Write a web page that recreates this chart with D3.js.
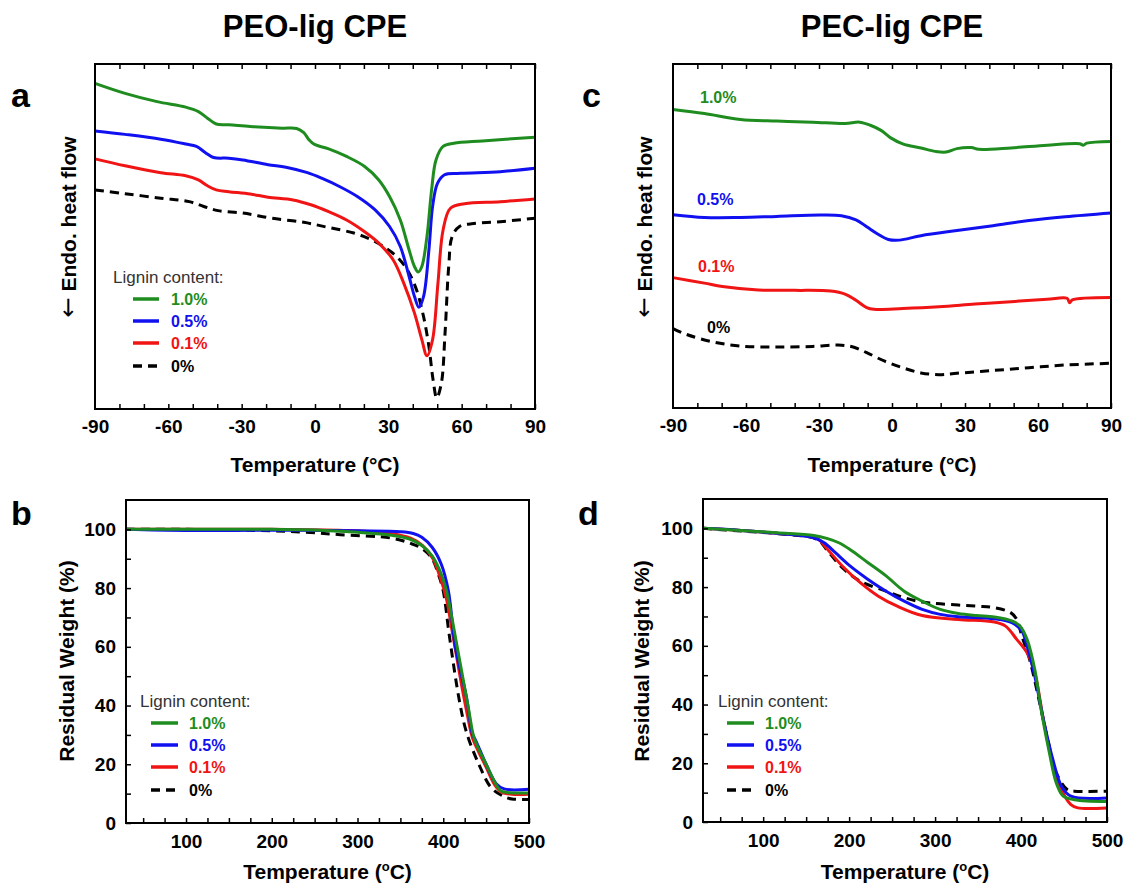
<!DOCTYPE html>
<html>
<head>
<meta charset="utf-8">
<script src="https://cdn.jsdelivr.net/npm/d3@7"></script>
<style>
  html, body { margin: 0; padding: 0; background: #fff; }
  svg { display: block; font-family: "Liberation Sans", Arial, sans-serif; }
</style>
</head>
<body>
<svg id="chart" width="1125" height="886"></svg>
<script>
// ---------------- DATA ----------------
const seriesNames = ["1.0%", "0.5%", "0.1%", "0%"];
const seriesColors = ["#1e8c1e", "#1010f0", "#f01414", "#000000"];

const dscTicks = [-90, -60, -30, 0, 30, 60, 90];
const tgaXTicks = [100, 200, 300, 400, 500];
const tgaYTicks = [0, 20, 40, 60, 80, 100];

// Panel a: PEO-lig CPE DSC (T in °C, heat flow a.u.)
const peoDsc10 = [[-90,94.4],[-77.7,91.5],[-64.6,89.1],[-52.9,87.5],[-47.7,86.2],[-44,84.3],[-40.4,82.6],[-35.3,82.4],[-26.5,81.9],[-13.4,81.4],[-7.5,81.3],[-4.6,80.1],[-2.4,78],[-0.2,76.7],[5.6,75.4],[12.9,73.2],[20.3,70.3],[26.1,66.4],[30.5,61.6],[34.9,54.8],[38.5,46.1],[40.7,41.3],[42.2,39.7],[43.7,41.3],[45.8,50],[47.7,63.5],[49.5,72.2],[52.4,76.1],[56.8,77],[68.5,77.7],[90,78.8]];
const peoDsc05 = [[-90,80.6],[-77.7,79.6],[-63.1,78.2],[-52.9,76.8],[-48.5,76.1],[-44.8,74.3],[-41.5,72.9],[-35.3,72.7],[-29.5,72.2],[-19.2,70.8],[-11.9,70.1],[-3.1,68.5],[2.7,66.9],[10,64.5],[17.3,61.6],[24.6,57.7],[30.5,52.9],[34.9,47.1],[38.5,38.4],[40.7,32.6],[42.5,29.5],[44.4,32.6],[46.6,46.1],[48.1,58.7],[50.1,65.4],[53,67.9],[59.7,68.3],[75.8,68.8],[90,69.8]];
const peoDsc01 = [[-90,72.5],[-77.7,70.5],[-63.1,68.5],[-52.9,67.6],[-47.7,66.4],[-44,64.7],[-40.4,63.5],[-35.3,63],[-26.5,62.3],[-19.2,61.4],[-9,60.6],[-1.7,59.2],[5.6,57.2],[12.9,54.8],[20.3,51.4],[26.1,48.1],[32,43.2],[36.3,36.5],[40.7,27.8],[43.7,20.1],[45.8,15.4],[48.1,20.1],[50.3,36.5],[52.4,51.9],[55.4,58.2],[61.2,59.5],[75.8,60.1],[90,60.9]];
const peoDsc00 = [[-90,63.5],[-77.7,62.4],[-63.1,61.1],[-51.4,60.1],[-45.5,58.7],[-39.7,57.5],[-29.5,56.8],[-17.8,55.3],[-4.6,54.1],[5.6,52.6],[15.9,51],[23.2,49],[29,46.6],[33.4,44.2],[37.8,40.3],[41.5,34.6],[44.4,26.8],[46.6,18.1],[48.3,8.5],[49.8,3.2],[51.7,7.5],[53.2,22],[54.7,41.3],[56.1,50],[59.1,52.9],[64.1,53.7],[75.8,54.3],[90,55.3]];

// Panel c: PEC-lig CPE DSC
const pecDsc10 = [[-90,86.8],[-77.1,85.6],[-62.3,83.9],[-47.4,83.4],[-32.6,83.1],[-19.3,82.7],[-13.3,83.1],[-8.9,82.2],[-4.5,80.7],[-0.7,78.6],[4.4,76.8],[11.9,75.6],[17.8,74.6],[22.2,74.4],[26.7,75.4],[32.6,75.7],[35.6,75.2],[48.9,75.6],[63.8,76.4],[77.1,76.8],[78.6,76.4],[80.1,77],[90,77.5]];
const pecDsc05 = [[-90,56.2],[-77.1,55.4],[-62.3,55.4],[-47.4,55.7],[-29.7,56.1],[-20.8,55.9],[-14.8,54.7],[-10.4,52.7],[-5.9,50.6],[-1.5,49],[3,48.8],[11.9,50.1],[26.7,51.6],[41.5,53],[56.3,54.5],[71.2,55.6],[90,56.7]];
const pecDsc01 = [[-90,37.9],[-77.1,36.3],[-69.7,35.3],[-54.9,34.3],[-40,34.2],[-25.2,34],[-19.3,33.1],[-14.8,31.3],[-10.4,29.2],[-7.4,28.7],[4.4,28.9],[19.3,29.4],[34.1,30.2],[48.9,30.9],[63.8,31.6],[71.9,31.9],[73,30.6],[74.1,31.4],[90,32.1]];
const pecDsc00 = [[-90,23.1],[-84.5,21.4],[-74.1,19.3],[-62.3,18],[-47.4,17.7],[-32.6,17.9],[-22.2,18.3],[-16.3,17.8],[-10.4,16.1],[-3,13.6],[4.4,11.7],[11.9,10.2],[19.3,9.7],[26.7,10.1],[41.5,10.9],[56.3,11.7],[71.2,12.5],[90,13]];

// Panel b: PEO-lig CPE TGA (T in °C, residual weight %)
const peoTga10 = [[30,100],[100,100],[200,100],[250,99.8],[300,99],[340,98],[360,96.8],[375,94.5],[387,91],[396,86],[403,80],[410,70],[415,62],[420,54],[425,46],[430,38],[435,30],[440,26],[450,20],[460,14],[467,11],[475,10.4],[500,10.2]];
const peoTga05 = [[30,100],[100,99.6],[200,99.7],[300,99.5],[350,99.2],[365,98.6],[375,97.3],[387,93.9],[397.6,88.2],[406,79],[414,60],[427,43],[434,30.3],[438,28],[450,20],[462,13.3],[471,11.6],[500,11.5]];
const peoTga01 = [[30,100],[100,100],[200,100],[290,99.6],[340,98.5],[362,97],[376,94.5],[388,90],[396,84],[404,76],[410,66],[416,56],[422,46],[428,37],[434,29],[440,25],[450,19],[460,13],[468,10.5],[480,9.8],[500,9.8]];
const peoTga00 = [[30,100],[100,100],[200,99.5],[240,99],[280,98.2],[340,97],[362,95.2],[375,93.5],[387,90],[394,85],[400,79],[407,64],[418.6,42],[427,31],[441.5,20],[456,12],[471,9],[480,8.2],[500,8]];

// Panel d: PEC-lig CPE TGA
const pecTga10 = [[30,100],[74,99.3],[116,98.5],[159,97.6],[175,96.5],[188,95.1],[201,92.8],[222,88.3],[243,83.8],[264,78.6],[285,75.2],[306,72.4],[327,71],[348,70.3],[369,69.8],[390,68.4],[399,66.7],[407,62.2],[416,51.9],[424,37.2],[433,23.5],[441,13.3],[449,8.8],[462,7.6],[500,7]];
const pecTga05 = [[30,100],[74,99.3],[116,98.3],[159,96.8],[171,95.1],[184,91.7],[201,87.2],[222,82.6],[243,78.6],[264,75.2],[285,72.4],[306,70.7],[327,69.9],[369,69.2],[390,67.8],[401,65],[407,59.9],[416,49.7],[426,34.9],[437,21.3],[447,12.2],[458,8.8],[500,8.2]];
const pecTga01 = [[30,100],[116,98.3],[163,96.5],[175,92.8],[192,87.2],[213,81.5],[234,76.9],[256,73.5],[285,70.3],[327,69],[369,68.1],[382,66.7],[395,62.2],[407,57.6],[416,50.8],[426,34.9],[437,20.1],[447,11],[458,5.9],[466,4.8],[500,4.8]];
const pecTga00 = [[30,100],[74,99.1],[116,98.2],[163,96.2],[175,92.3],[192,86.6],[213,82],[243,78.6],[264,76.4],[285,74.9],[306,74.3],[348,73.5],[369,73],[388,71.3],[395,69],[401,63.3],[410,55.3],[420,42.8],[431,28.1],[441,16.7],[454,11],[462,10.5],[500,10.5]];

// ---------------- DRAW ----------------
const svg = d3.select("#chart");
const FONT = "'Liberation Sans', Arial, sans-serif";

function panel(opt) {
  const x = d3.scaleLinear().domain(opt.xDomain).range([opt.x0, opt.x1]);
  const y = d3.scaleLinear().domain(opt.yDomain).range([opt.y1, opt.y0]);
  const g = svg.append("g");

  // curves
  const line = d3.line().x(d => x(d[0])).y(d => y(d[1])).curve(d3.curveCatmullRom.alpha(0.5));
  const order = [3, 2, 1, 0];
  order.forEach(i => {
    g.append("path")
      .attr("d", line(opt.series[i]))
      .attr("fill", "none")
      .attr("stroke", seriesColors[i])
      .attr("stroke-width", 3)
      .attr("stroke-linejoin", "round")
      .attr("stroke-dasharray", i === 3 ? "9,6" : null);
  });

  // bottom axis (inward ticks)
  const bottom = g.append("g").attr("transform", `translate(0,${opt.y1})`)
    .call(d3.axisBottom(x).tickValues(d3.range(opt.xDomain[0] + opt.xMinorStart, opt.xDomain[1] + 0.001, opt.xMinor))
      .tickSize(-5).tickFormat(""));
  bottom.select(".domain").remove();
  bottom.selectAll("line").attr("stroke", "#000").attr("stroke-width", 1.5);

  const bl = g.append("g").attr("transform", `translate(0,${opt.y1})`)
    .call(d3.axisBottom(x).tickValues(opt.xTicks).tickSize(0).tickPadding(opt.xLabelPad)
      .tickFormat(d => String(d)));
  bl.select(".domain").remove();
  bl.selectAll("text").attr("font-family", FONT).attr("font-size", 19).attr("font-weight", "bold").attr("fill", "#000");

  if (opt.topTicks) {
    const top = g.append("g").attr("transform", `translate(0,${opt.y0})`)
      .call(d3.axisTop(x).tickValues(d3.range(opt.xDomain[0] + opt.xMinorStart, opt.xDomain[1] + 0.001, opt.xMinor))
        .tickSize(-5).tickFormat(""));
    top.select(".domain").remove();
    top.selectAll("line").attr("stroke", "#000").attr("stroke-width", 1.5);
  }

  if (opt.yTicks) {
    const left = g.append("g").attr("transform", `translate(${opt.x0},0)`)
      .call(d3.axisLeft(y).tickValues(d3.range(0, 101, 10)).tickSize(-5).tickFormat(""));
    left.select(".domain").remove();
    left.selectAll("line").attr("stroke", "#000").attr("stroke-width", 1.5);
    const ll = g.append("g").attr("transform", `translate(${opt.x0},0)`)
      .call(d3.axisLeft(y).tickValues(opt.yTicks).tickSize(0).tickPadding(10).tickFormat(d => String(d)));
    ll.select(".domain").remove();
    ll.selectAll("text").attr("font-family", FONT).attr("font-size", 19).attr("font-weight", "bold").attr("fill", "#000");
  }

  // frame
  g.append("rect").attr("x", opt.x0).attr("y", opt.y0)
    .attr("width", opt.x1 - opt.x0).attr("height", opt.y1 - opt.y0)
    .attr("fill", "none").attr("stroke", "#000").attr("stroke-width", 2);

  // x label
  const xl = g.append("text").attr("x", (opt.x0 + opt.x1) / 2).attr("y", opt.xTitleY)
    .attr("text-anchor", "middle").attr("font-family", FONT).attr("font-size", 21)
    .attr("font-weight", "bold").attr("fill", "#000");
  if (opt.supDeg) {
    xl.append("tspan").text("Temperature (");
    xl.append("tspan").text("o").attr("font-size", 13).attr("dy", -8);
    xl.append("tspan").text("C)").attr("dy", 8);
  } else {
    xl.text("Temperature (°C)");
  }

  // y label
  const yl = g.append("text").attr("transform", `translate(${opt.yTitleX},${opt.yTitleCY}) rotate(-90)`)
    .attr("text-anchor", "middle").attr("font-family", FONT).attr("font-size", 21)
    .attr("font-weight", "bold").attr("fill", "#000");
  if (opt.yArrow) {
    yl.append("tspan").attr("font-family", "'DejaVu Sans', sans-serif").attr("font-weight", "normal")
      .attr("font-size", 24).text("\u2190");
    yl.append("tspan").text(" " + opt.yTitle);
  } else {
    yl.text(opt.yTitle);
  }

  // panel letter
  svg.append("text").attr("x", opt.letterX).attr("y", opt.letterY)
    .attr("font-family", FONT).attr("font-size", 34).attr("font-weight", "bold")
    .attr("fill", "#000").text(opt.letter);

  // legend
  if (opt.legend) {
    const L = opt.legend;
    g.append("text").attr("x", L.titleX).attr("y", L.titleY)
      .attr("font-family", FONT).attr("font-size", 17).attr("fill", "#333").text("Lignin content:");
    seriesNames.forEach((n, i) => {
      const ry = L.rows[i];
      g.append("line").attr("x1", L.lx0).attr("x2", L.lx1).attr("y1", ry).attr("y2", ry)
        .attr("stroke", seriesColors[i]).attr("stroke-width", 3.5)
        .attr("stroke-dasharray", i === 3 ? "9,6" : null);
      g.append("text").attr("x", L.tx).attr("y", ry + 6)
        .attr("font-family", FONT).attr("font-size", 16).attr("font-weight", "bold")
        .attr("fill", seriesColors[i]).text(n);
    });
  }
  if (opt.direct) {
    opt.direct.forEach((p, i) => {
      g.append("text").attr("x", p[0]).attr("y", p[1])
        .attr("font-family", FONT).attr("font-size", 16).attr("font-weight", "bold")
        .attr("fill", seriesColors[i]).text(seriesNames[i]);
    });
  }
}

// titles
svg.append("text").attr("x", 315).attr("y", 37).attr("text-anchor", "middle")
  .attr("font-family", FONT).attr("font-size", 31).attr("font-weight", "bold").text("PEO-lig CPE");
svg.append("text").attr("x", 892).attr("y", 37).attr("text-anchor", "middle")
  .attr("font-family", FONT).attr("font-size", 31).attr("font-weight", "bold").text("PEC-lig CPE");

panel({
  letter: "a", letterX: 11, letterY: 107,
  x0: 95, x1: 535, y0: 64, y1: 409,
  xDomain: [-90, 90], yDomain: [0, 100], xTicks: dscTicks, xMinor: 10, xMinorStart: 10, xLabelPad: 11,
  topTicks: true, series: [peoDsc10, peoDsc05, peoDsc01, peoDsc00],
  xTitleY: 472, yTitle: "Endo. heat flow", yArrow: true, yTitleX: 76, yTitleCY: 227,
  legend: { titleX: 113, titleY: 283, lx0: 133, lx1: 159, tx: 171, rows: [299, 321, 343, 366] }
});

panel({
  letter: "c", letterX: 582, letterY: 107,
  x0: 673, x1: 1111, y0: 64, y1: 408,
  xDomain: [-90, 90], yDomain: [0, 100], xTicks: dscTicks, xMinor: 10, xMinorStart: 10, xLabelPad: 11,
  topTicks: true, series: [pecDsc10, pecDsc05, pecDsc01, pecDsc00],
  xTitleY: 472, yTitle: "Endo. heat flow", yArrow: true, yTitleX: 652, yTitleCY: 227,
  direct: [[700, 103], [697, 205], [698, 272], [707, 333]]
});

panel({
  letter: "b", letterX: 11, letterY: 525,
  x0: 126, x1: 529, y0: 500, y1: 823,
  xDomain: [30, 500], yDomain: [0, 110], xTicks: tgaXTicks, xMinor: 25, xMinorStart: 20, xLabelPad: 12,
  yTicks: tgaYTicks, series: [peoTga10, peoTga05, peoTga01, peoTga00],
  xTitleY: 879, supDeg: true, yTitle: "Residual Weight (%)", yTitleX: 74, yTitleCY: 661,
  legend: { titleX: 140, titleY: 707, lx0: 151, lx1: 178, tx: 189, rows: [723, 745, 767, 790] }
});

panel({
  letter: "d", letterX: 578, letterY: 525,
  x0: 703, x1: 1107, y0: 499, y1: 822,
  xDomain: [30, 500], yDomain: [0, 110], xTicks: tgaXTicks, xMinor: 25, xMinorStart: 20, xLabelPad: 12,
  yTicks: tgaYTicks, series: [pecTga10, pecTga05, pecTga01, pecTga00],
  xTitleY: 879, supDeg: true, yTitle: "Residual Weight (%)", yTitleX: 649, yTitleCY: 661,
  legend: { titleX: 718, titleY: 707, lx0: 727, lx1: 754, tx: 765, rows: [723, 745, 767, 790] }
});
</script>
</body>
</html>
